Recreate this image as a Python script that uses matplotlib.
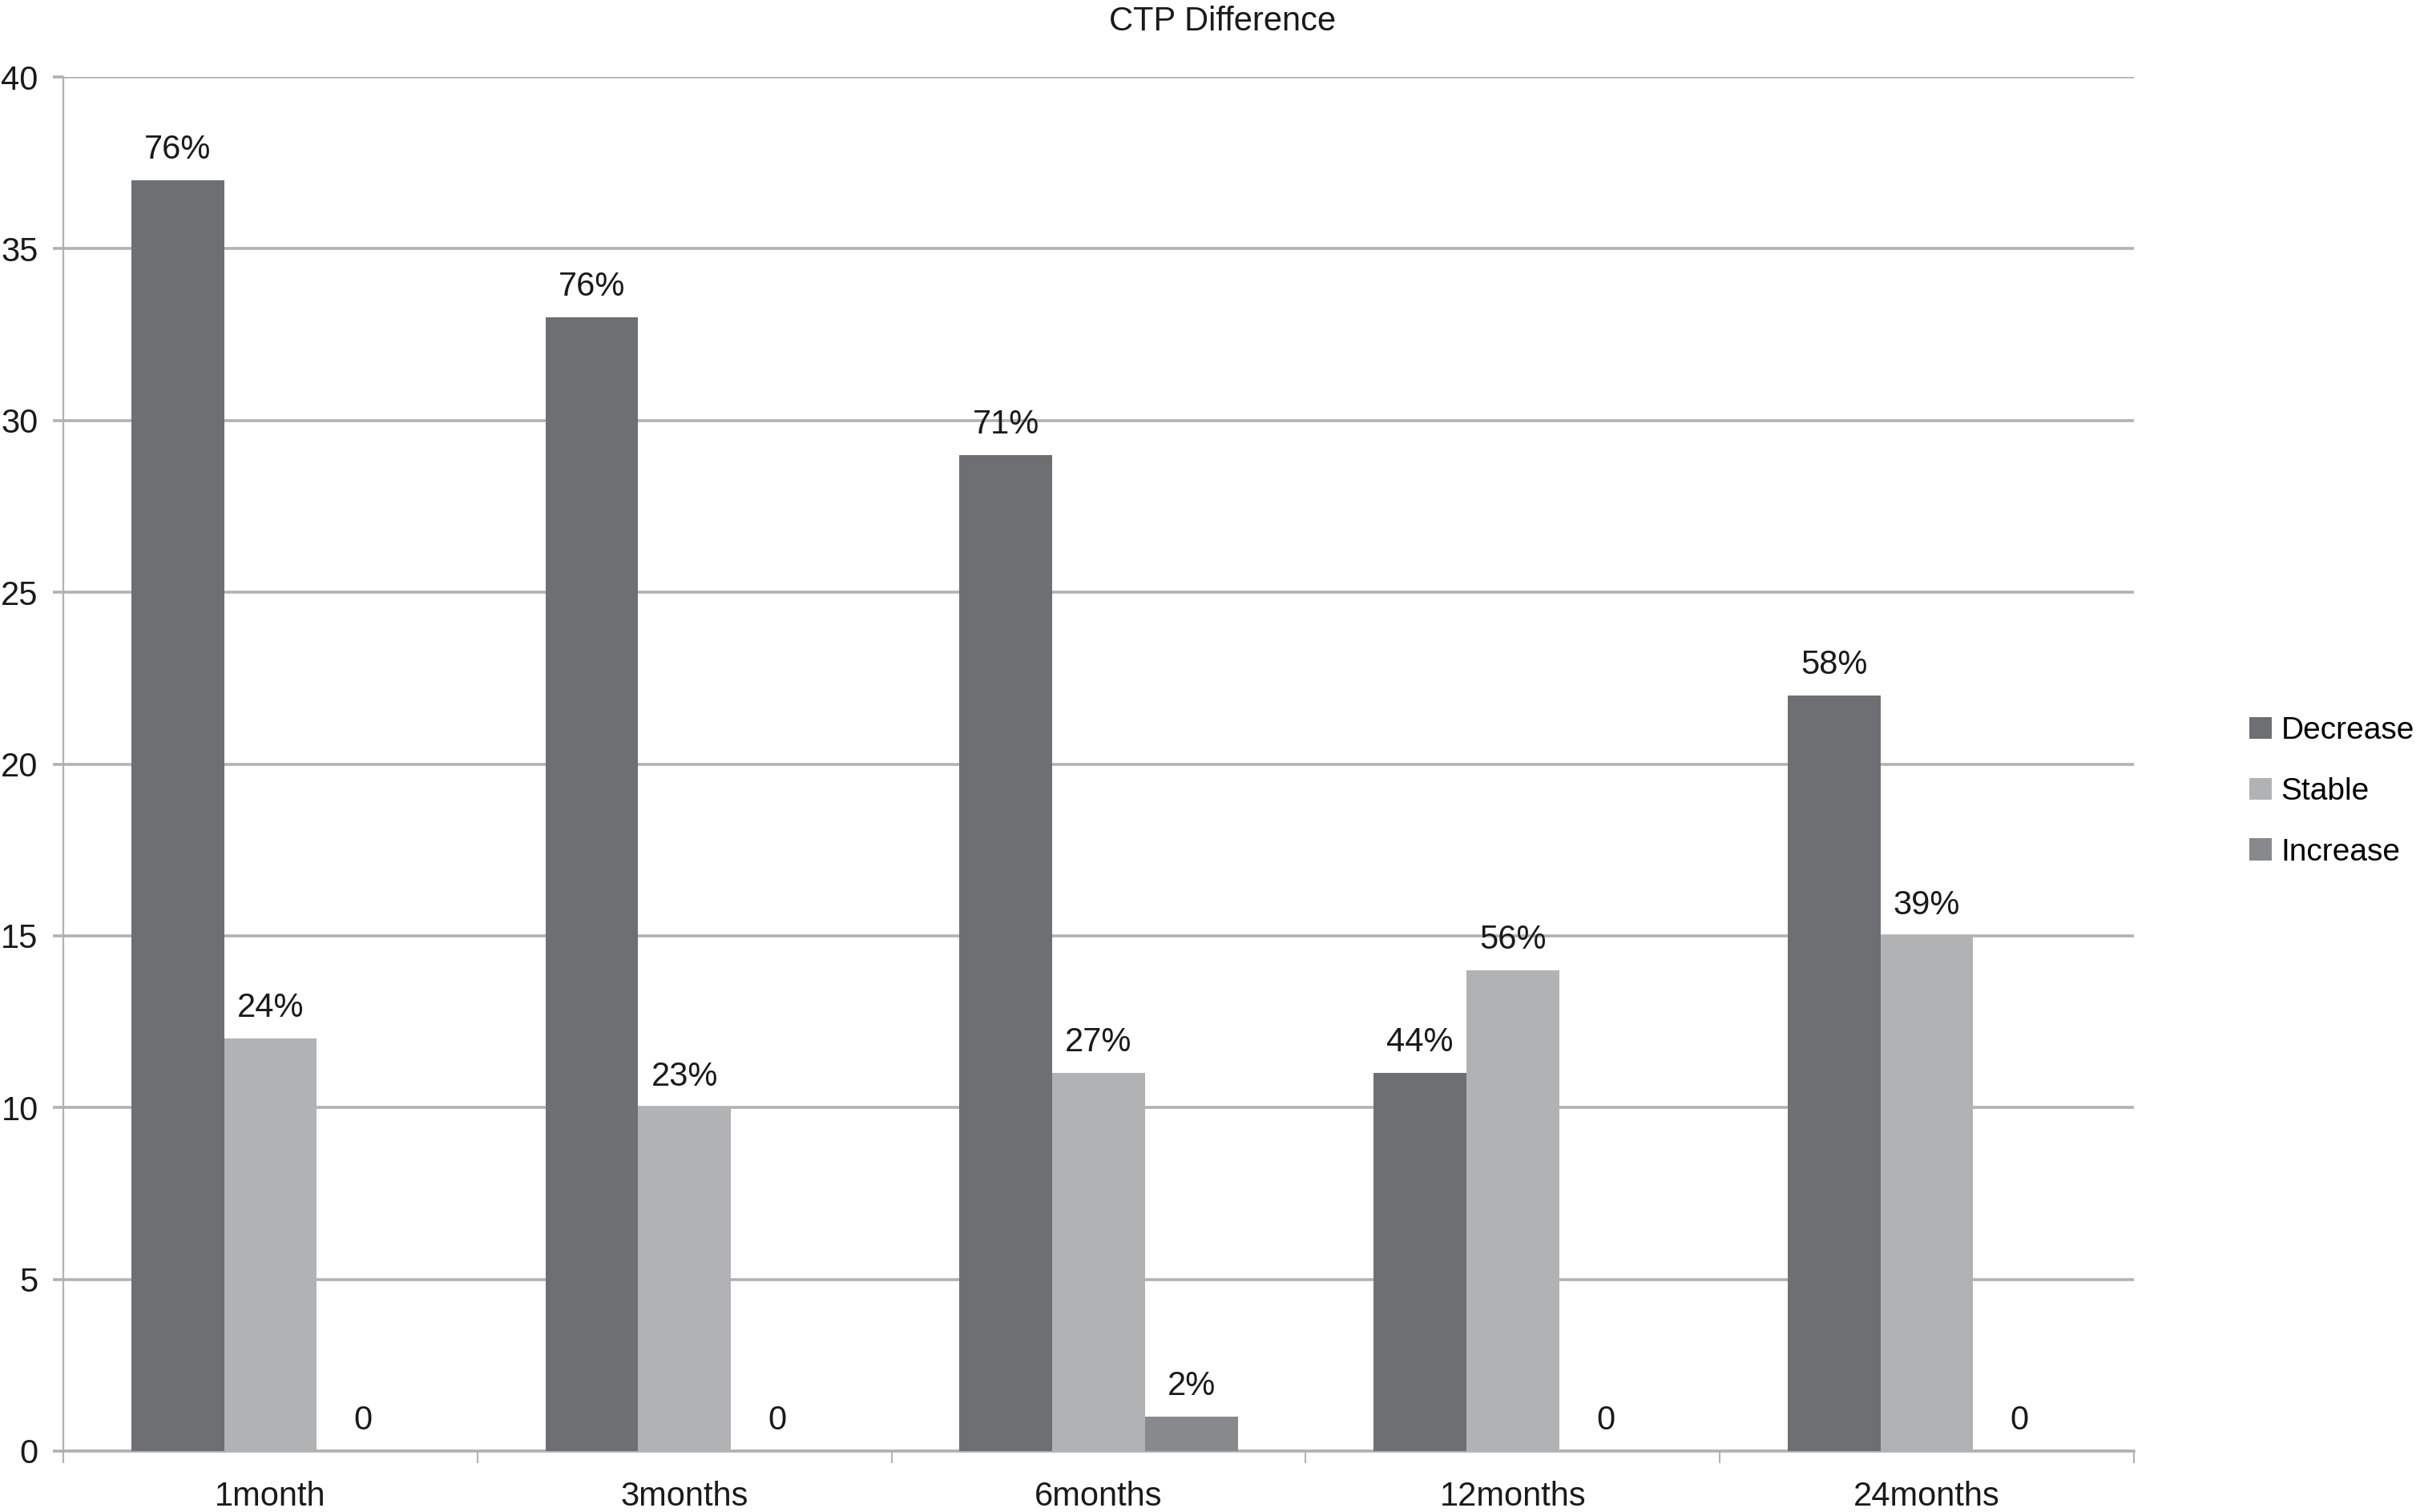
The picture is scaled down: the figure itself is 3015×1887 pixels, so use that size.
import numpy as np
import matplotlib.pyplot as plt

# chart values
categories = ['1month', '3months', '6months', '12months', '24months']
decrease = [37, 33, 29, 11, 22]
stable = [12, 10, 11, 14, 15]
increase = [0, 0, 1, 0, 0]
decrease_labels = ['76%', '76%', '71%', '44%', '58%']
stable_labels = ['24%', '23%', '27%', '56%', '39%']
increase_labels = ['0', '0', '2%', '0', '0']
series_names = ['Decrease', 'Stable', 'Increase']
y_ticks = [0, 5, 10, 15, 20, 25, 30, 35, 40]

plt.rcParams['font.family'] = ['Liberation Sans', 'DejaVu Sans']
fs = 30

fig = plt.figure(figsize=(30.15, 18.87), dpi=100)
ax = fig.add_axes([0.0262, 0.0403, 0.857, 0.9088])

grid_col = '#b2b2b2'
colors = ['#6e6f73', '#b1b2b4', '#88898c']
width = 0.224
x = np.arange(len(categories))

series = [(decrease, decrease_labels), (stable, stable_labels), (increase, increase_labels)]
for i, (vals, labs) in enumerate(series):
    bars = ax.bar(x + (i - 1) * width, vals, width, color=colors[i],
                  label=series_names[i], zorder=3, edgecolor='none')
    for b, lab in zip(bars, labs):
        ax.annotate(lab, (b.get_x() + b.get_width() / 2, b.get_height()),
                    xytext=(0, 13), textcoords='offset points',
                    ha='center', va='bottom', fontsize=fs, color='#1a1a1a')

ax.set_xlim(-0.5, len(categories) - 0.5)
ax.set_ylim(0, 40)
ax.set_yticks(y_ticks)
ax.yaxis.grid(True, color=grid_col, linewidth=2.6, zorder=0)
ax.set_axisbelow(True)

ax.set_xticks(x)
ax.set_xticklabels(categories)
ax.set_xticks(np.arange(len(categories) + 1) - 0.5, minor=True)
ax.tick_params(axis='x', which='major', length=0, pad=27, labelsize=fs, labelcolor='#1a1a1a')
ax.tick_params(axis='x', which='minor', length=11, width=1.5, color=grid_col)
ax.tick_params(axis='y', length=9.5, width=2.6, color=grid_col, pad=13,
               labelsize=fs, labelcolor='#1a1a1a')

for side in ['top', 'right']:
    ax.spines[side].set_visible(False)
ax.spines['left'].set_color(grid_col)
ax.spines['left'].set_linewidth(1.6)
ax.spines['bottom'].set_color(grid_col)
ax.spines['bottom'].set_linewidth(2.6)

fig.text(0.506, 0.9855, 'CTP Difference', ha='center', va='center', fontsize=fs, color='#1a1a1a')

ax.legend(loc='center left', bbox_to_anchor=(0.926, 0.4765), bbox_transform=fig.transFigure,
          frameon=False, fontsize=28, handlelength=0.7, handleheight=0.7,
          handletextpad=0.3, labelspacing=1.02, borderaxespad=0)

fig.savefig('out.png', dpi=100)
